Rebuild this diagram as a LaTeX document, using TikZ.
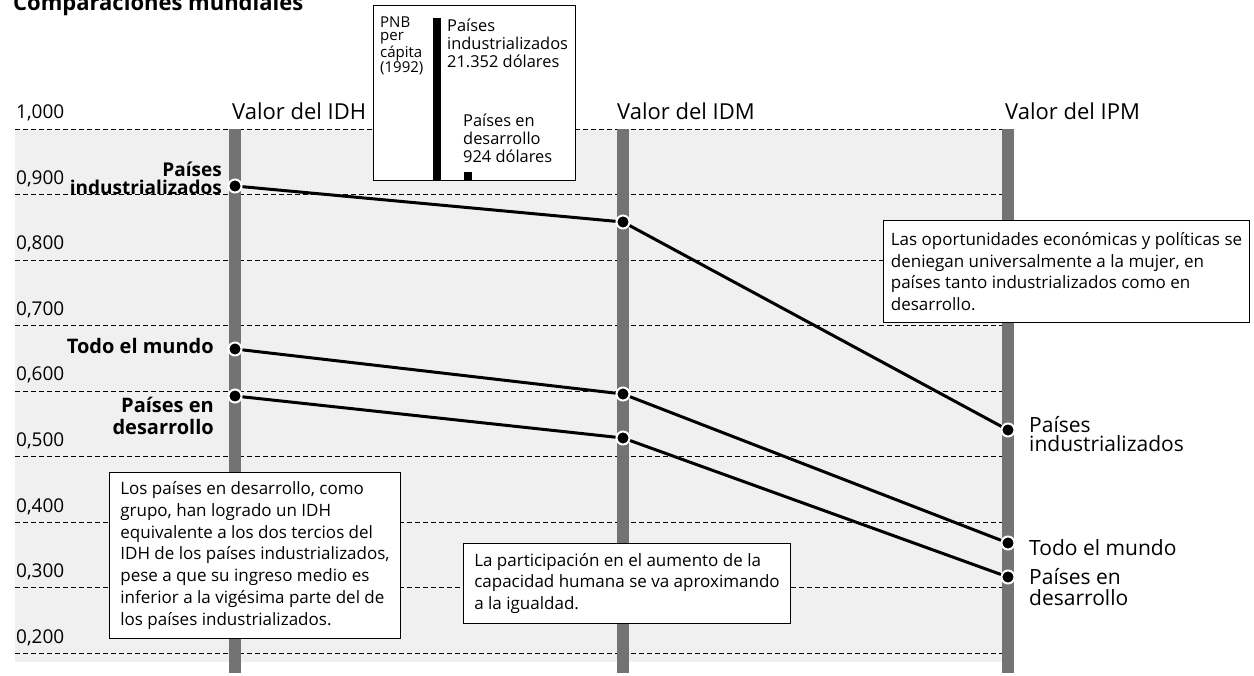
\documentclass[tikz,border=0pt]{standalone}
\usepackage{fontspec}
\setmainfont{Open Sans}
\newcommand{\fsz}[2]{\fontsize{#1}{#2}\selectfont}

\begin{document}
\begin{tikzpicture}[x=1pt,y=-1pt,
	grid/.style={dash pattern=on 5pt off 3pt,line width=0.8pt},
	bar/.style={fill=black!55},
	dot/.style={circle,fill=black,draw=white,line width=2pt,inner sep=0pt,minimum size=13pt},
	link/.style={line width=3pt},
	tick/.style={font=\fsz{19}{22},inner sep=0pt,anchor=base west},
	head/.style={font=\fsz{22}{26},inner sep=0pt,anchor=base west},
	lbl/.style={font=\bfseries\fsz{20}{20},inner sep=0pt,align=right,anchor=base east},
	rlbl/.style={font=\fsz{21}{20},inner sep=0pt,align=left,anchor=base west},
	small/.style={font=\fsz{16.4}{18},inner sep=0pt,align=left,anchor=base west},
	note/.style={draw,fill=white,line width=1pt,align=left,anchor=north west,font=\fsz{17}{21.7}}]
	\useasboundingbox (0,0) rectangle (1254,676);
	
	\node[font=\bfseries\fsz{22}{26},inner sep=0pt,anchor=base west] (title) at (13,11) {Comparaciones mundiales};
	
	% fondo, escala y barras
	\fill[black!6] (15,129) rectangle (1008,662);
	\foreach \lab [count=\k from 0] in {{1,000},{0,900},{0,800},{0,700},{0,600},{0,500},{0,400},{0,300},{0,200}}{
		\draw[grid] (15,129+65.5*\k) -- (1002,129+65.5*\k);
		\node[tick] (tick\k) at (16,119+65.5*\k) {\lab};
	}
	\foreach \x in {235,623,1008}
		\fill[bar] (\x-6,129) rectangle (\x+6,673);
	
	\node[head] (h-idh) at (232,120) {Valor del IDH};
	\node[head] (h-idm) at (617,120) {Valor del IDM};
	\node[head] (h-ipm) at (1005,120) {Valor del IPM};
	
	% PNB per capita (base = ultima linea)
	\node[draw,fill=white,line width=1pt,inner sep=0pt,minimum width=202pt,minimum height=175pt,anchor=north west] (pnb) at (373,5) {};
	\fill (433,18) rectangle (441,180);
	\fill (464,172) rectangle (472,180);
	\node[small,font=\fsz{15}{13.5}] (pnb-lab) at (380,72.5) {PNB\\per\\cápita\\(1992)};
	\node[small] (pnb-ind) at (447,68) {Países\\industrializados\\21.352 dólares};
	\node[small] (pnb-des) at (463,163) {Países en\\desarrollo\\924 dólares};
	
	% puntos
	\node[dot] (idh-ind) at (235,186) {};
	\node[dot] (idh-mun) at (235,349) {};
	\node[dot] (idh-des) at (235,396) {};
	\node[dot] (idm-ind) at (623,222) {};
	\node[dot] (idm-mun) at (623,394) {};
	\node[dot] (idm-des) at (623,438) {};
	\node[dot] (ipm-ind) at (1008,430) {};
	\node[dot] (ipm-mun) at (1008,543) {};
	\node[dot] (ipm-des) at (1008,577) {};
	\draw[link] (idh-ind) -- (idm-ind) -- (ipm-ind);
	\draw[link] (idh-mun) -- (idm-mun) -- (ipm-mun);
	\draw[link] (idh-des) -- (idm-des) -- (ipm-des);
	
	\node[lbl,font=\bfseries\fsz{19}{18}] (l-ind) at (222,195) {Países\\industrializados};
	\node[lbl] (l-mun) at (214,354) {Todo el mundo};
	\node[lbl,font=\bfseries\fsz{20}{22}] (l-des) at (214,435) {Países en\\desarrollo};
	\node[rlbl,font=\fsz{21}{19}] (r-ind) at (1029,452) {Países\\industrializados};
	\node[rlbl] (r-mun) at (1029,555) {Todo el mundo};
	\node[rlbl,font=\fsz{21}{21}] (r-des) at (1029,605) {Países en\\desarrollo};
	
	% notas
	\node[note,inner xsep=9pt,minimum width=291pt,minimum height=166pt] (n-idh) at (109,472) {Los países en desarrollo, como\\grupo, han logrado un IDH\\equivalente a los dos tercios del\\IDH de los países industrializados,\\pese a que su ingreso medio es\\inferior a la vigésima parte del de\\los países industrializados.};
	\node[note,inner xsep=10pt,minimum width=327pt,minimum height=80pt] (n-idm) at (463,543) {La participación en el aumento de la\\capacidad humana se va aproximando\\a la igualdad.};
	\node[note,inner xsep=7pt,minimum width=366pt,minimum height=102pt] (n-ipm) at (883,220) {Las oportunidades económicas y políticas se\\deniegan universalmente a la mujer, en\\países tanto industrializados como en\\desarrollo.};
\end{tikzpicture}
\end{document}
